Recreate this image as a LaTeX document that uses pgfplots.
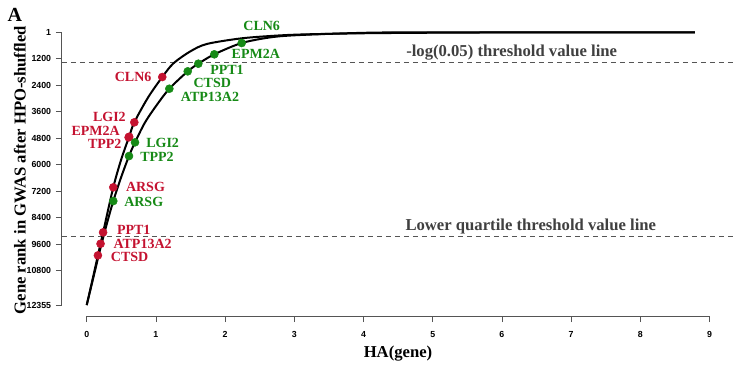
\documentclass[border=0pt]{standalone}
\usepackage{pgfplots}
\pgfplotsset{compat=1.18}
\usepackage{fontspec}
\setmainfont{Liberation Serif}
\newfontfamily\tickfont{Liberation Sans}
\definecolor{cred}{RGB}{196,18,48}
\definecolor{cgreen}{RGB}{22,138,22}
\definecolor{tgray}{RGB}{64,64,64}
\definecolor{agray}{RGB}{85,85,85}
\begin{document}
\begin{tikzpicture}
\begin{axis}[
 scale only axis, width=504.45pt, height=220.95pt,
 at={(65.03pt,-24.21pt)}, anchor=origin,
 xmin=-0.36, xmax=9.36, ymin=-493, ymax=12849, y dir=reverse,
 axis line style={draw=none},
 xtick={0,1,2,3,4,5,6,7,8,9},
 xticklabels={0,1,2,3,4,5,6,7,8,9},
 ytick={1,1200,2400,3600,4800,6000,7200,8400,9600,10800,12355},
 yticklabels={1,1200,2400,3600,4800,6000,7200,8400,9600,10800,12355},
 xtick pos=left, ytick pos=left, xticklabel pos=left, yticklabel pos=left,
 tick align=outside, major tick length=4.5pt,
 tick style={agray, line width=0.6pt},
 ticklabel style={font=\tickfont\bfseries\fontsize{6.6}{7}\selectfont},
 xticklabel style={yshift=-3.5pt},
 /pgf/number format/assume math mode=true,
 scaled ticks=false,
 clip=false,
]
% threshold lines
\addplot[agray, line width=0.9pt, dash pattern=on 3.75pt off 3pt] coordinates {(-0.36,1360) (9.36,1360)};
\addplot[agray, line width=0.9pt, dash pattern=on 3.75pt off 3pt] coordinates {(-0.36,9266) (9.36,9266)};
% curve 1
\addplot[black, line width=1.5pt, smooth, tension=0.5] coordinates {
(0,12355) (0.077,11294) (0.162,10103) (0.237,9061) (0.384,7022) (0.496,5786)
(0.611,4744) (0.688,4078) (0.886,2955) (1.092,2026) (1.251,1414) (1.494,871)
(1.734,531) (2.215,282) (2.649,169) (3.082,101) (3.950,46) (5.250,15)
(6.838,1) (8.789,1)};
% curve 2
\addplot[black, line width=1.5pt, smooth, tension=0.5] coordinates {
(0,12355) (0.084,11267) (0.192,9863) (0.286,8730) (0.384,7643) (0.496,6578)
(0.611,5605) (0.698,4984) (0.842,4087) (1.012,3294) (1.194,2556) (1.460,1768)
(1.613,1423) (1.844,998) (2.240,486) (2.692,214) (3.179,110) (4.137,15)
(5.250,1) (6.838,1) (8.789,1)};
% red points
\addplot[only marks, mark=*, mark size=3pt, cred] coordinates {
(0.162,10103) (0.200,9577) (0.237,9061) (0.384,7022) (0.606,4760) (0.614,4730)
(0.688,4078) (1.092,2026)};
% green points
\addplot[only marks, mark=*, mark size=3pt, cgreen] coordinates {
(0.384,7643) (0.611,5605) (0.698,4984) (1.194,2556) (1.460,1768) (1.613,1423)
(1.844,998) (2.240,486)};
% axis lines
\draw[agray, line width=0.6pt] (axis cs:0,12849) -- (axis cs:9,12849);
\draw[agray, line width=0.6pt] (axis cs:-0.36,1) -- (axis cs:-0.36,12355);
% gene labels
\begin{scope}[every node/.style={inner sep=0pt, font=\bfseries\fontsize{10.5}{12}\selectfont}]
\node[cred, anchor=east] at (axis cs:0.939,2012) {CLN6};
\node[cred, anchor=east] at (axis cs:0.568,3852) {LGI2};
\node[cred, anchor=east] at (axis cs:0.481,4459) {EPM2A};
\node[cred, anchor=east] at (axis cs:0.506,5061) {TPP2};
\node[cred, anchor=west] at (axis cs:0.564,6995) {ARSG};
\node[cred, anchor=west] at (axis cs:0.434,8957) {PPT1};
\node[cred, anchor=west] at (axis cs:0.384,9591) {ATP13A2};
\node[cred, anchor=west] at (axis cs:0.347,10166) {CTSD};
\node[cgreen, anchor=west] at (axis cs:0.857,5029) {LGI2};
\node[cgreen, anchor=west] at (axis cs:0.770,5636) {TPP2};
\node[cgreen, anchor=west] at (axis cs:0.539,7675) {ARSG};
\node[cgreen] at (axis cs:1.782,2930) {ATP13A2};
\node[cgreen] at (axis cs:1.815,2285) {CTSD};
\node[cgreen] at (axis cs:2.027,1715) {PPT1};
\node[cgreen] at (axis cs:2.444,984) {EPM2A};
\node[cgreen] at (axis cs:2.529,-284) {CLN6};
\end{scope}
\node[tgray, inner sep=0pt, font=\bfseries\fontsize{12.5}{14}\selectfont] at (axis cs:6.141,908) {-log(0.05) threshold value line};
\node[tgray, inner sep=0pt, font=\bfseries\fontsize{12.5}{14}\selectfont] at (axis cs:6.418,8776) {Lower quartile threshold value line};
\end{axis}
\node[inner sep=0pt, font=\bfseries\fontsize{12.5}{14}\selectfont] at (298.5pt,-265.5pt) {HA(gene)};
\node[inner sep=0pt, rotate=90, font=\bfseries\fontsize{12.5}{14}\selectfont] at (15pt,-127.5pt) {Gene rank in GWAS after HPO-shuffled};
\node[inner sep=0pt, font=\bfseries\fontsize{15}{16}\selectfont] at (11.1pt,-11.5pt) {A};
\pgfresetboundingbox
\path[use as bounding box] (0,0) rectangle (550.5pt,-273.75pt);
\end{tikzpicture}
\end{document}
